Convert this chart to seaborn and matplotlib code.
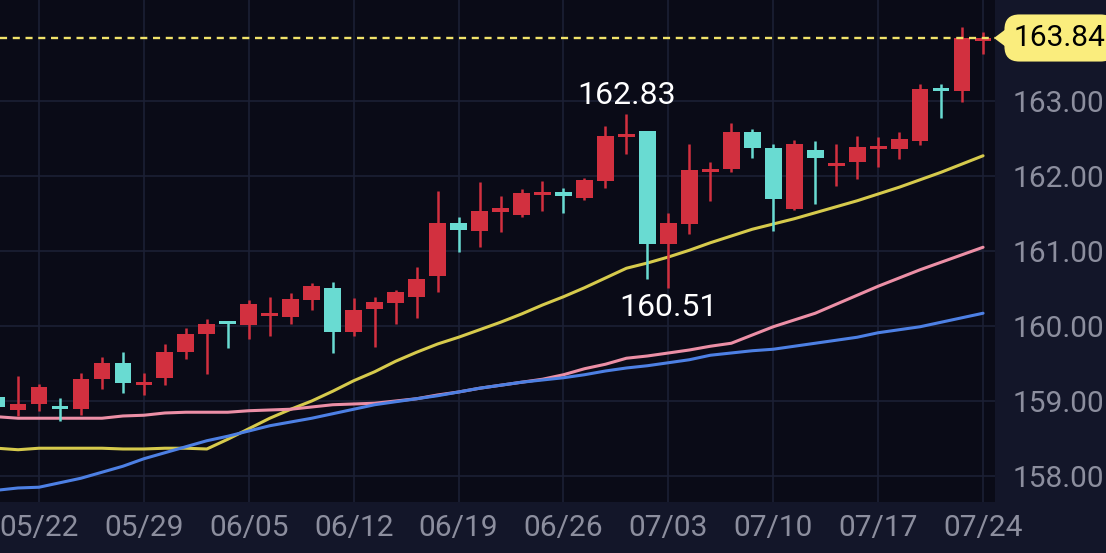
import numpy as np
import pandas as pd
import matplotlib
matplotlib.use("Agg")
import matplotlib.pyplot as plt
from matplotlib.patches import Polygon
import seaborn as sns

# trading days shown on the chart (first one is cut by the left edge)
dates = pd.bdate_range("2023-05-18", "2023-07-24")

opens = [159.05, 158.88, 158.96, 158.93, 158.89, 159.29, 159.51, 159.21, 159.31, 159.65,
         159.89, 160.05, 160.01, 160.13, 160.12, 160.35, 160.51, 159.92, 160.23, 160.31,
         160.39, 160.67, 161.37, 161.27, 161.52, 161.48, 161.75, 161.79, 161.71, 161.93,
         162.52, 162.60, 161.09, 161.36, 162.05, 162.09, 162.59, 162.37, 161.56, 162.35,
         162.15, 162.19, 162.36, 162.36, 162.47, 163.17, 163.13, 163.81]
highs = [159.12, 159.33, 159.23, 159.04, 159.37, 159.59, 159.65, 159.37, 159.76, 159.97,
         160.09, 160.07, 160.35, 160.39, 160.44, 160.57, 160.59, 160.37, 160.39, 160.48,
         160.79, 161.80, 161.45, 161.92, 161.73, 161.83, 161.93, 161.84, 161.97, 162.67,
         162.83, 162.60, 161.51, 162.43, 162.19, 162.71, 162.63, 162.43, 162.48, 162.47,
         162.43, 162.53, 162.52, 162.59, 163.23, 163.23, 163.99, 163.92]
lows = [158.88, 158.80, 158.87, 158.73, 158.81, 159.16, 159.11, 159.08, 159.21, 159.56,
        159.36, 159.71, 159.83, 159.87, 160.03, 160.21, 159.64, 159.87, 159.72, 160.03,
        160.11, 160.45, 160.99, 161.05, 161.25, 161.45, 161.53, 161.51, 161.68, 161.84,
        162.29, 160.63, 160.51, 161.23, 161.67, 162.05, 162.24, 161.27, 161.55, 161.63,
        161.87, 161.96, 162.12, 162.23, 162.41, 162.77, 162.99, 163.63]
closes = [158.92, 158.96, 159.19, 158.89, 159.29, 159.51, 159.24, 159.25, 159.65, 159.89,
          160.03, 160.03, 160.29, 160.17, 160.36, 160.53, 159.92, 160.21, 160.32, 160.45,
          160.63, 161.37, 161.28, 161.53, 161.57, 161.77, 161.79, 161.73, 161.95, 162.53,
          162.56, 161.09, 161.37, 162.08, 162.09, 162.59, 162.37, 161.69, 162.43, 162.24,
          162.17, 162.39, 162.40, 162.49, 163.16, 163.13, 163.84, 163.84]

ma_yellow = [158.37, 158.35, 158.37, 158.37, 158.37, 158.37, 158.36, 158.36, 158.37, 158.37,
             158.36, 158.49, 158.63, 158.77, 158.89, 159.00, 159.13, 159.27, 159.39, 159.53,
             159.65, 159.76, 159.85, 159.95, 160.05, 160.16, 160.28, 160.39, 160.51, 160.64,
             160.77, 160.84, 160.92, 161.01, 161.11, 161.20, 161.29, 161.36, 161.43, 161.51,
             161.59, 161.67, 161.76, 161.85, 161.95, 162.05, 162.16, 162.27]
ma_pink = [158.79, 158.77, 158.77, 158.77, 158.77, 158.77, 158.80, 158.81, 158.84, 158.85,
           158.85, 158.85, 158.87, 158.88, 158.89, 158.92, 158.95, 158.96, 158.97, 159.00,
           159.03, 159.08, 159.12, 159.17, 159.21, 159.25, 159.29, 159.35, 159.43, 159.49,
           159.57, 159.60, 159.64, 159.68, 159.73, 159.77, 159.88, 159.99, 160.08, 160.17,
           160.29, 160.41, 160.53, 160.64, 160.75, 160.85, 160.95, 161.05]
ma_blue = [157.81, 157.84, 157.85, 157.91, 157.97, 158.05, 158.13, 158.23, 158.31, 158.39,
           158.47, 158.53, 158.60, 158.67, 158.72, 158.77, 158.83, 158.89, 158.95, 158.99,
           159.03, 159.07, 159.12, 159.17, 159.21, 159.25, 159.28, 159.31, 159.35, 159.40,
           159.44, 159.47, 159.51, 159.55, 159.61, 159.64, 159.67, 159.69, 159.73, 159.77,
           159.81, 159.85, 159.91, 159.95, 159.99, 160.05, 160.11, 160.17]

tick_labels = ["05/22", "05/29", "06/05", "06/12", "06/19",
               "06/26", "07/03", "07/10", "07/17", "07/24"]
y_ticks = [158, 159, 160, 161, 162, 163]
last_price = 163.84
high_mark = 162.83
low_mark = 160.51

RED = "#d2303f"
TEAL = "#69dbd2"
BG_OUT = "#131629"
BG_IN = "#0a0b17"
GRID = "#1c2034"
TXT = "#8c8e9e"

sns.set_theme(style="dark")
plt.rcParams["font.family"] = ["Roboto", "DejaVu Sans"]

df = pd.DataFrame({"date": dates, "open": opens, "high": highs, "low": lows,
                   "close": closes, "ma1": ma_yellow, "ma2": ma_pink, "ma3": ma_blue})
df["i"] = np.arange(len(df))

fig = plt.figure(figsize=(11.06, 5.53), dpi=100, facecolor=BG_OUT)
ax = fig.add_axes([0, 51 / 553, 995 / 1106, 502 / 553])
ax.set_facecolor(BG_IN)
for s in ax.spines.values():
    s.set_visible(False)

# moving averages
sns.lineplot(data=df, x="i", y="ma1", color="#d6ca4c", lw=2.2, ax=ax, zorder=2)
sns.lineplot(data=df, x="i", y="ma2", color="#ec8fa6", lw=2.2, ax=ax, zorder=2)
sns.lineplot(data=df, x="i", y="ma3", color="#4d80e4", lw=2.2, ax=ax, zorder=2)

# candles
up = df["close"] >= df["open"]
cols = np.where(up, RED, TEAL)
mid = (df["open"] + df["close"]) / 2
body = np.maximum((df["close"] - df["open"]).abs(), 0.04)
ax.vlines(df["i"], df["low"], df["high"], colors=cols, lw=1.8, zorder=3)
ax.bar(df["i"], body, bottom=mid - body / 2, width=0.8, color=cols,
       edgecolor="none", linewidth=0, zorder=4)

# last price line
ax.axhline(last_price, color="#f1e36a", lw=1.7, ls=(0, (3, 2.4)), zorder=5)

# high / low labels
ax.text(30, 163.08, f"{high_mark:.2f}", color="white", fontsize=23,
        ha="center", va="center", zorder=6)
ax.text(32, 160.25, f"{low_mark:.2f}", color="white", fontsize=23,
        ha="center", va="center", zorder=6)

mondays = [k for k, d in enumerate(dates) if d.strftime("%m/%d") in tick_labels]
ax.set_xticks(mondays)
ax.set_xticklabels(tick_labels)
ax.set_yticks(y_ticks)
ax.set_yticklabels([f"{v:.2f}" for v in y_ticks])
ax.yaxis.tick_right()
ax.tick_params(axis="both", length=0, colors=TXT, labelsize=21.5)
ax.tick_params(axis="y", pad=13)
ax.tick_params(axis="x", pad=9)
ax.grid(True, color=GRID, lw=1.2)
ax.set_axisbelow(True)
ax.set_xlabel("")
ax.set_ylabel("")
ax.set_xlim(0.14, 47.57)
ax.set_ylim(157.653, 164.347)

# price tag on the right axis
fig.text(1014 / 1106, (553 - 38) / 553, f"{last_price:.2f}", color="black", fontsize=21.5,
         ha="left", va="center",
         bbox=dict(boxstyle="round,pad=0.32,rounding_size=0.5", fc="#faed7d", ec="none"))
tri = Polygon([[994 / 1106, (553 - 38) / 553], [1006 / 1106, (553 - 29) / 553],
               [1006 / 1106, (553 - 47) / 553]], closed=True, fc="#faed7d", ec="none",
              transform=fig.transFigure)
fig.patches.append(tri)

fig.savefig("out.png", dpi=100, facecolor=BG_OUT)
